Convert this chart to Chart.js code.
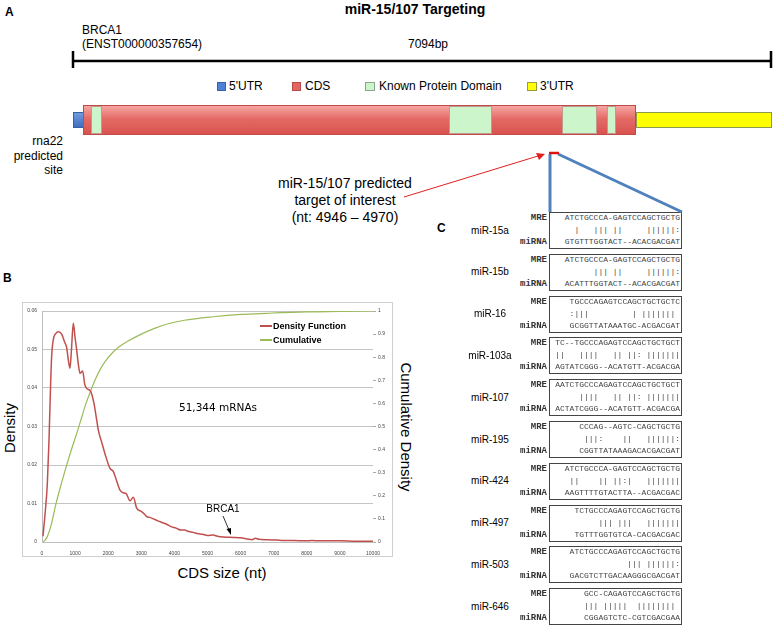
<!DOCTYPE html>
<html lang="en">
<head>
<meta charset="UTF-8">
<title>miR-15/107 Targeting</title>
<script src="https://cdn.jsdelivr.net/npm/chart.js"></script>
<style>
  body { margin: 0; background: #fff; font-family: 'Liberation Sans', Arial, sans-serif; }
  #page { position: relative; width: 777px; height: 629px; overflow: hidden; background: #fff; }
  .t { position: absolute; white-space: nowrap; line-height: 1; color: #000; }
  .c { transform: translate(-50%, -50%); }
  .l { transform: translateY(-50%); }
  .r { transform: translate(-100%, -50%); }
  .b { font-weight: bold; }
  .blk { position: absolute; box-sizing: border-box; }
  .seq { font-family: 'Liberation Mono', 'Courier New', monospace; font-size: 8px; color: #444; white-space: pre; }
  .tag { font-family: 'Liberation Mono', 'Courier New', monospace; font-size: 9px; font-weight: bold; color: #333; }
  .box { position: absolute; left: 549px; width: 133px; height: 37px; border: 1.5px solid #444; box-sizing: border-box; }
  #chartWrap { position: absolute; left: 22px; top: 302px; width: 369px; height: 253px; border: 1px solid #cfcfcf; }
  svg { position: absolute; left: 0; top: 0; }
</style>
</head>
<body>
<div id="page">
  <!-- panel A -->
  <div class="t b l" style="left:5px;top:12px;font-size:12px">A</div>
  <div class="t b c" style="left:415px;top:9px;font-size:14px">miR-15/107 Targeting</div>
  <div class="t l" style="left:82px;top:30px;font-size:12px">BRCA1</div>
  <div class="t l" style="left:82px;top:44px;font-size:12px">(ENST000000357654)</div>
  <div class="t c" style="left:428px;top:44px;font-size:12px">7094bp</div>

  <div class="blk" style="left:217px;top:82px;width:9px;height:9px;background:#4f81d6;border:1px solid #3a62a8"></div>
  <div class="t l" style="left:229px;top:86px;font-size:12px">5'UTR</div>
  <div class="blk" style="left:292px;top:82px;width:9px;height:9px;background:#e46562;border:1px solid #b84a48"></div>
  <div class="t l" style="left:305px;top:86px;font-size:12px">CDS</div>
  <div class="blk" style="left:365px;top:82px;width:10px;height:9px;background:#ccf5cc;border:1px solid #8aa88a"></div>
  <div class="t l" style="left:379px;top:86px;font-size:12px">Known Protein Domain</div>
  <div class="blk" style="left:527px;top:82px;width:10px;height:9px;background:#ffff00;border:1px solid #9a9a40"></div>
  <div class="t l" style="left:540px;top:86px;font-size:12px">3'UTR</div>

  <div class="blk" style="left:73px;top:112px;width:11px;height:16px;background:linear-gradient(#6f9ae0,#3f6fc0);border:1px solid #3a5fa0"></div>
  <div class="blk" style="left:83px;top:105px;width:553px;height:30px;background:linear-gradient(#f6a6a2,#e46a66 45%,#d9534f);border:1px solid #c04a46"></div>
  <div class="blk" style="left:91px;top:106px;width:11px;height:28px;background:#ccf5cc;border:1px solid #c09a90"></div>
  <div class="blk" style="left:449px;top:106px;width:43px;height:28px;background:#ccf5cc;border:1px solid #c09a90"></div>
  <div class="blk" style="left:562px;top:106px;width:35px;height:28px;background:#ccf5cc;border:1px solid #c09a90"></div>
  <div class="blk" style="left:607px;top:106px;width:9px;height:28px;background:#ccf5cc;border:1px solid #c09a90"></div>
  <div class="blk" style="left:636px;top:112px;width:136px;height:16px;background:#ffff00;border:1px solid #8a9a50"></div>

  <div class="t" style="left:0;top:134px;width:63px;text-align:right;font-size:12px;line-height:14.5px">rna22<br>predicted<br>site</div>
  <div class="t" style="left:245px;top:175px;width:200px;text-align:center;font-size:14px;line-height:17px">miR-15/107 predicted<br>target of interest<br>(nt: 4946 – 4970)</div>

  <!-- panel B -->
  <div class="t b l" style="left:3px;top:278px;font-size:12px">B</div>
  <div id="chartWrap"><canvas id="cdsChart" width="369" height="253"></canvas></div>
  <div class="t c" style="left:9px;top:428px;font-size:15px;transform:translate(-50%,-50%) rotate(-90deg)">Density</div>
  <div class="t c" style="left:406px;top:427px;font-size:15px;transform:translate(-50%,-50%) rotate(90deg)">Cumulative Density</div>
  <div class="t c" style="left:222px;top:572px;font-size:15px">CDS size (nt)</div>

  <div class="blk" style="left:260px;top:325px;width:12px;height:1.5px;background:#c0504d"></div>
  <div class="t b l" style="left:273px;top:326px;font-size:9px">Density Function</div>
  <div class="blk" style="left:260px;top:339px;width:12px;height:1.5px;background:#9bbb59"></div>
  <div class="t b l" style="left:273px;top:340px;font-size:9px">Cumulative</div>
  <div class="t c" style="left:218px;top:407px;font-size:10.5px;font-family:'DejaVu Sans',sans-serif">51,344 mRNAs</div>
  <div class="t c" style="left:223px;top:509px;font-size:10px">BRCA1</div>

  <!-- panel C -->
  <div class="t b l" style="left:437px;top:228px;font-size:12px">C</div>
  <div id="panelC"></div>

  <svg width="777" height="629">
    <line x1="72" y1="61" x2="772" y2="61" stroke="#000" stroke-width="2.5"/>
    <line x1="73" y1="51" x2="73" y2="68" stroke="#000" stroke-width="2.5"/>
    <line x1="771" y1="51" x2="771" y2="68" stroke="#000" stroke-width="2.5"/>
    <line x1="550" y1="154" x2="550" y2="212" stroke="#4f81bd" stroke-width="3"/>
    <line x1="558" y1="154" x2="682" y2="212" stroke="#4f81bd" stroke-width="3"/>
    <line x1="549" y1="153" x2="559" y2="153" stroke="#e01010" stroke-width="2.5"/>
    <line x1="404" y1="197" x2="538" y2="156" stroke="#e02020" stroke-width="1"/>
    <polygon points="545,154 536,153 539,160" fill="#e02020"/>
    <line x1="223" y1="516" x2="229" y2="530" stroke="#000" stroke-width="0.8"/>
    <polygon points="231,535 226.5,529 231,528" fill="#000"/>
  </svg>
</div>
<script>
// CDS length (nt) and density
const densityNt = [30, 100, 160, 210, 250, 290, 340, 420, 495, 595, 680, 745, 800, 845, 890, 946, 1000, 1048, 1100, 1148, 1228, 1290, 1349, 1470, 1570, 1652, 1700, 1800, 1900, 2055, 2155, 2250, 2356, 2450, 2538, 2659, 2759, 2860, 3010, 3100, 3163, 3260, 3364, 3500, 3650, 3767, 3900, 4050, 4200, 4320, 4400, 4571, 4700, 4850, 5000, 5175, 5300, 5500, 5780, 6000, 6200, 6350, 6450, 6550, 6800, 7100, 7300, 7600, 8000, 8150, 8400, 9000, 9500, 10000];
const densityVals = [0.0015, 0.008, 0.015, 0.026, 0.038, 0.048, 0.0525, 0.0542, 0.0546, 0.054, 0.052, 0.0505, 0.047, 0.0451, 0.05, 0.0568, 0.053, 0.0499, 0.046, 0.0438, 0.0444, 0.041, 0.0399, 0.0391, 0.036, 0.0317, 0.0291, 0.026, 0.023, 0.0191, 0.0183, 0.016, 0.0135, 0.0128, 0.0126, 0.0107, 0.0116, 0.0088, 0.0079, 0.0072, 0.0066, 0.0064, 0.006, 0.0055, 0.005, 0.0046, 0.004, 0.0036, 0.0031, 0.0031, 0.0028, 0.0025, 0.0022, 0.002, 0.0017, 0.0018, 0.0015, 0.0013, 0.0012, 0.0011, 0.0008, 0.0006, 0.001, 0.0007, 0.0006, 0.0005, 0.0004, 0.0004, 0.0003, 0.0004, 0.0003, 0.0003, 0.0002, 0.0002];
const cumulativeNt = [40, 150, 280, 425, 600, 745, 900, 1050, 1200, 1330, 1460, 1600, 1750, 1900, 2100, 2330, 2600, 3000, 3400, 3810, 4300, 5170, 6000, 6790, 8000, 9000, 10000];
const cumulativeVals = [0, 0.02, 0.075, 0.167, 0.26, 0.333, 0.405, 0.47, 0.54, 0.6, 0.65, 0.7, 0.745, 0.78, 0.815, 0.845, 0.87, 0.9, 0.925, 0.945, 0.96, 0.975, 0.985, 0.99, 0.996, 0.998, 1];

// panel C alignments
const mirNames = ['miR-15a', 'miR-15b', 'miR-16', 'miR-103a', 'miR-107', 'miR-195', 'miR-424', 'miR-497', 'miR-503', 'miR-646'];
const mreSeqs = [
  'ATCTGCCCA-GAGTCCAGCTGCTG', 'ATCTGCCCA-GAGTCCAGCTGCTG', 'TGCCCAGAGTCCAGCTGCTGCTC',
  'TC--TGCCCAGAGTCCAGCTGCTGCT', 'AATCTGCCCAGAGTCCAGCTGCTGCT', 'CCCAG--AGTC-CAGCTGCTG',
  'ATCTGCCCA-GAGTCCAGCTGCTG', 'TCTGCCCAGAGTCCAGCTGCTG', 'ATCTGCCCAGAGTCCAGCTGCTG', 'GCC-CAGAGTCCAGCTGCTG'];
const pairLines = [
  '  |   ||| ||     ||||||:', '      ||| ||     ||||||:', ':|||         | ||||||| ',
  '||   ||||   || ||: |||||||', '     ||||   || ||: |||||||', ' |||:    ||   ||||||:',
  ' ||    || ||:|   |||||||', '     ||| |||   |||||||', '            ||| ||||||:', '||| |||||  |||||||| '];
const mirnaSeqs = [
  'GTGTTTGGTACT--ACACGACGAT', 'ACATTTGGTACT--ACACGACGAT', 'GCGGTTATAAATGC-ACGACGAT',
  'AGTATCGGG--ACATGTT-ACGACGA', 'ACTATCGGG--ACATGTT-ACGACGA', 'CGGTTATAAAGACACGACGAT',
  'AAGTTTTGTACTTA--ACGACGAC', 'TGTTTGGTGTCA-CACGACGAC', 'GACGTCTTGACAAGGGCGACGAT', 'CGGAGTCTC-CGTCGACGAA'];

const panelC = document.getElementById('panelC');
let html = '';
mirNames.forEach(function (name, i) {
  const top = 212 + i * 41.8;
  html += '<div class="box" style="top:' + top + 'px"></div>';
  html += '<div class="t c" style="left:490px;top:' + (top + 18.5) + 'px;font-size:10px">' + name + '</div>';
  html += '<div class="t r tag" style="left:547px;top:' + (top + 6) + 'px">MRE</div>';
  html += '<div class="t r tag" style="left:547px;top:' + (top + 30) + 'px">miRNA</div>';
  html += '<div class="t r seq" style="left:680px;top:' + (top + 6) + 'px">' + mreSeqs[i] + '</div>';
  html += '<div class="t r seq" style="left:680px;top:' + (top + 18) + 'px">' + pairLines[i] + '</div>';
  html += '<div class="t r seq" style="left:680px;top:' + (top + 30) + 'px">' + mirnaSeqs[i] + '</div>';
});
panelC.innerHTML = html;

const tickFont = { family: "'Liberation Sans', Arial, sans-serif", size: 5 };
const ctx = document.getElementById('cdsChart').getContext('2d');
new Chart(ctx, {
  type: 'line',
  data: {
    datasets: [
      {
        label: 'Density Function',
        data: densityNt.map((x, i) => ({ x: x, y: densityVals[i] })),
        yAxisID: 'y',
        borderColor: '#c0504d',
        borderWidth: 1.5,
        pointRadius: 0,
        cubicInterpolationMode: 'monotone',
        fill: false
      },
      {
        label: 'Cumulative',
        data: cumulativeNt.map((x, i) => ({ x: x, y: cumulativeVals[i] })),
        yAxisID: 'y1',
        borderColor: '#9bbb59',
        borderWidth: 1.2,
        pointRadius: 0,
        cubicInterpolationMode: 'monotone',
        fill: false
      }
    ]
  },
  options: {
    responsive: false,
    animation: false,
    devicePixelRatio: 1,
    layout: { padding: { top: 8, left: 0, right: 0, bottom: 0 } },
    plugins: { legend: { display: false }, tooltip: { enabled: false } },
    scales: {
      x: {
        type: 'linear', min: 0, max: 10000,
        grid: { display: false },
        border: { display: true, color: '#bdbdbd' },
        ticks: { stepSize: 1000, autoSkip: false, maxRotation: 0, font: tickFont, color: '#444', padding: 1,
          callback: v => String(v) },
        afterFit: function (s) { s.height = 14; }
      },
      y: {
        position: 'left', min: 0, max: 0.06,
        grid: { color: '#c4c4c4', lineWidth: 1, drawTicks: false },
        border: { display: true, color: '#bdbdbd' },
        ticks: { stepSize: 0.01, font: tickFont, color: '#444', padding: 5,
          callback: v => v === 0 ? '0' : v.toFixed(2) },
        afterFit: function (s) { s.width = 19; }
      },
      y1: {
        position: 'right', min: 0, max: 1,
        grid: { drawOnChartArea: false, drawTicks: true, tickLength: 3, color: '#aaa' },
        border: { display: false },
        ticks: { stepSize: 0.1, font: tickFont, color: '#444', padding: 2,
          callback: v => (v === 0 || v === 1) ? String(v) : v.toFixed(1) },
        afterFit: function (s) { s.width = 19; }
      }
    }
  }
});
</script>
</body>
</html>
